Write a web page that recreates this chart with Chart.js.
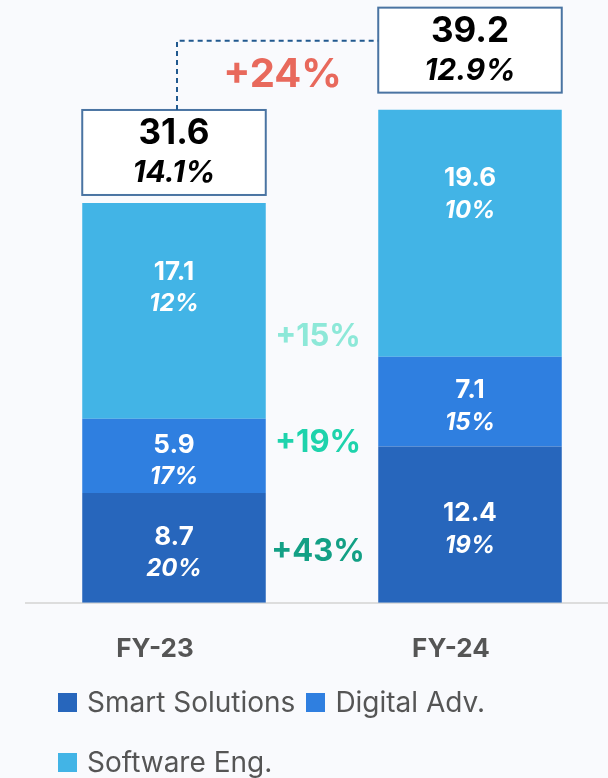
<!DOCTYPE html>
<html>
<head>
<meta charset="utf-8">
<script src="https://cdn.jsdelivr.net/npm/chart.js@4.4.1/dist/chart.umd.min.js"></script>
<style>
  html, body { margin: 0; padding: 0; background: #F9FAFD; overflow: hidden; }
  .wrap { position: relative; width: 608px; height: 778px; overflow: hidden; }
  canvas { position: absolute; left: 0; top: 0; }
  .legend { position: absolute; left: 58px; top: 672px; width: 480px; display: flex; flex-wrap: wrap; column-gap: 11px;
            font-family: Inter, 'Open Sans', sans-serif; font-size: 28px; color: #555; }
  .legend .item { display: flex; align-items: center; height: 60px; }
  .legend .box { width: 19px; height: 19px; margin-right: 10px; }
</style>
</head>
<body>
<div class="wrap">
  <canvas id="chart" width="620" height="696"></canvas>
  <div class="legend" id="legend"></div>
</div>
<script>
const categories = ['FY-23', 'FY-24'];
const seriesNames = ['Smart Solutions', 'Digital Adv.', 'Software Eng.'];
const smartSolutions = [8.7, 12.4];
const digitalAdv = [5.9, 7.1];
const softwareEng = [17.1, 19.6];
const smartGrowth = ['20%', '19%'];
const digitalGrowth = ['17%', '15%'];
const softwareGrowth = ['12%', '10%'];
const totals = [31.6, 39.2];
const totalGrowth = ['14.1%', '12.9%'];
const segmentChange = ['+43%', '+19%', '+15%'];
const totalChange = '+24%';

const seriesColors = ['#2766BC', '#2F7FE0', '#42B4E6'];
const changeColors = ['#13A085', '#1ED3AC', '#8DE8D8'];
const changeShift = [4, -13, 26];
const boxGap = [8, 17];
const FONT = 'Inter, "Open Sans", sans-serif';

const annotate = {
  id: 'annotate',
  afterDatasetsDraw(chart) {
    const ctx = chart.ctx;
    const metas = chart.data.datasets.map((d, i) => chart.getDatasetMeta(i));
    const last = metas.length - 1;
    ctx.save();
    ctx.textAlign = 'center';
    ctx.textBaseline = 'middle';

    // labels inside segments
    metas.forEach((meta, di) => {
      const ds = chart.data.datasets[di];
      meta.data.forEach((bar, i) => {
        const mid = di === last ? bar.y + 85 : (bar.y + bar.base) / 2 + 5;
        ctx.fillStyle = '#fff';
        ctx.font = 'bold 26px ' + FONT;
        ctx.fillText(ds.data[i].toFixed(1), bar.x, mid - 16);
        ctx.font = 'italic bold 24px ' + FONT;
        ctx.fillText(ds.growth[i], bar.x, mid + 16);
      });
    });

    // growth between the bars
    metas.forEach((meta, di) => {
      const a = meta.data[0], b = meta.data[1];
      const x = (a.x + b.x) / 2 - 4;
      const y = (a.y + a.base) / 2 + changeShift[di];
      ctx.fillStyle = changeColors[di];
      ctx.font = 'bold 31px ' + FONT;
      ctx.fillText(segmentChange[di], x, y);
    });

    // total boxes
    const boxes = metas[last].data.map((bar, i) => {
      const w = bar.width;
      const bottom = bar.y - boxGap[i];
      const box = { left: bar.x - w / 2, right: bar.x + w / 2, top: bottom - 85, bottom, cx: bar.x };
      ctx.fillStyle = '#fff';
      ctx.fillRect(box.left, box.top, w, 85);
      ctx.strokeStyle = '#4A74A2';
      ctx.lineWidth = 2;
      ctx.strokeRect(box.left, box.top, w, 85);
      ctx.fillStyle = '#000';
      ctx.font = 'bold 35px ' + FONT;
      ctx.fillText(totals[i].toFixed(1), bar.x, box.top + 24);
      ctx.font = 'italic bold 30px ' + FONT;
      ctx.fillText(totalGrowth[i], bar.x, box.top + 63);
      return box;
    });

    // dashed connector
    const b0 = boxes[0], b1 = boxes[1];
    const lineY = b1.top + 33;
    const x0 = b0.cx + 3;
    ctx.strokeStyle = '#21598F';
    ctx.lineWidth = 2;
    ctx.setLineDash([5, 4]);
    ctx.beginPath();
    ctx.moveTo(x0, b0.top);
    ctx.lineTo(x0, lineY);
    ctx.lineTo(b1.left, lineY);
    ctx.stroke();
    ctx.setLineDash([]);

    ctx.fillStyle = '#E8695C';
    ctx.font = 'bold 40px ' + FONT;
    ctx.fillText(totalChange, (x0 + b1.left) / 2 + 5, (lineY + b0.top) / 2);
    ctx.restore();
  }
};

const datasets = [
  { label: seriesNames[0], data: smartSolutions, growth: smartGrowth, backgroundColor: seriesColors[0] },
  { label: seriesNames[1], data: digitalAdv, growth: digitalGrowth, backgroundColor: seriesColors[1] },
  { label: seriesNames[2], data: softwareEng, growth: softwareGrowth, backgroundColor: seriesColors[2] }
];

new Chart(document.getElementById('chart'), {
  type: 'bar',
  data: { labels: categories, datasets },
  options: {
    responsive: false,
    animation: false,
    layout: { padding: { top: 10, left: 26, right: 2, bottom: 0 } },
    datasets: { bar: { categoryPercentage: 1, barPercentage: 0.62 } },
    plugins: { legend: { display: false }, tooltip: { enabled: false } },
    scales: {
      x: {
        stacked: true,
        grid: { display: true, drawOnChartArea: false, drawTicks: false },
        border: { color: '#DDDDDD', width: 2 },
        ticks: { color: '#555', font: { family: FONT, size: 26, weight: 'bold' }, padding: 31, labelOffset: -19 }
      },
      y: { stacked: true, display: false, min: 0, max: 47 }
    }
  },
  plugins: [annotate]
});

const legend = document.getElementById('legend');
seriesNames.forEach((name, i) => {
  const item = document.createElement('div');
  item.className = 'item';
  item.innerHTML = '<span class="box" style="background:' + seriesColors[i] + '"></span><span>' + name + '</span>';
  legend.appendChild(item);
});
</script>
</body>
</html>
